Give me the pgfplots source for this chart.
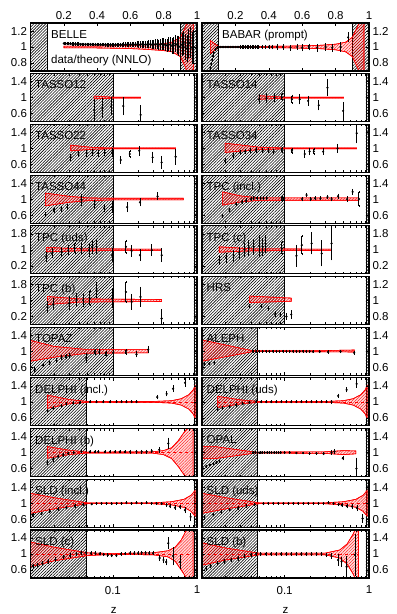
\documentclass[border=0pt]{standalone}
\usepackage{fontspec}
\setmainfont{Liberation Sans}
\usepackage{pgfplots}
\pgfplotsset{compat=1.18}
\usetikzlibrary{patterns,patterns.meta}
\newcommand{\fs}{\fontsize{11.5bp}{13bp}\selectfont}
\tikzset{labst/.style={anchor=north west, inner sep=0pt, font=\fs, xshift=4.5bp, yshift=-7bp}}
\pgfplotsset{
 pnlst/.style={scale only axis, height=48bp, anchor=north west,
   axis line style={line width=1.1pt}, axis on top,
   tick align=inside, major tick length=3bp, minor tick length=2bp,
   every tick/.style={black, line width=0.5pt},
   tick label style={font=\fs}, clip=true},
 lgx/.style={xmin=0.0105, xmax=1, xtick={0.1,1}, xticklabels={},
   minor xtick={0.02,0.03,0.04,0.05,0.06,0.07,0.08,0.09,0.2,0.3,0.4,0.5,0.6,0.7,0.8,0.9}},
 colL/.style={width=166.5bp},
 colR/.style={width=167bp, yticklabel pos=right},
 yA/.style={ymin=0.4,ymax=1.6,ytick={0.6,1,1.4},yticklabels={0.6,1,1.4}},
 yB/.style={ymin=0.7,ymax=1.3,ytick={0.8,1,1.2},yticklabels={0.8,1,1.2}},
 yC/.style={ymin=-0.2,ymax=2.2,ytick={0.2,1,1.8},yticklabels={0.2,1,1.8}},
 toprow/.style={xmin=0, xmax=1, xtick={0.2,0.4,0.6,0.8,1}, xticklabels={0.2,0.4,0.6,0.8,1}, xticklabel pos=upper},
 botrow/.style={xticklabels={0.1,1}, xticklabel style={yshift=-4.5bp}, xlabel={z}, xlabel style={font=\fs, yshift=-6bp}},
 hatchst/.style={draw=black, line width=0.7pt, pattern={Lines[angle=45,distance=2.1pt,line width=0.6pt]}, pattern color=black},
 bandst/.style={draw=red, line width=0.6pt, fill=red, fill opacity=0.15, postaction={fill opacity=0.45, pattern={Lines[angle=45,distance=2.1pt,line width=0.35pt]}, pattern color=red}},
 clst/.style={red, dashed, line width=0.5pt},
 datst/.style={black, only marks, mark=*, mark size=0.9bp, error bars/y dir=both, error bars/y explicit, error bars/error bar style={line width=0.9pt}, error bars/error mark options={mark size=1bp, line width=0.6pt}},
}
\newcommand{\hatchA}{\addplot[hatchst] coordinates {(0.0105,-1) (0.1,-1) (0.1,3) (0.0105,3)} -- cycle;
 \addplot[hatchst] coordinates {(0.92,-1) (1,-1) (1,3) (0.92,3)} -- cycle;}
\newcommand{\hatchB}{\addplot[hatchst] coordinates {(0.0105,-1) (0.048,-1) (0.048,3) (0.0105,3)} -- cycle;
 \addplot[hatchst] coordinates {(0.92,-1) (1,-1) (1,3) (0.92,3)} -- cycle;}
\begin{document}
\begin{tikzpicture}
\useasboundingbox (0,0) rectangle (397bp,614bp);
% ---------------- row 0
\begin{axis}[pnlst, colL, yB, toprow, at={(30.5bp,591bp)}]
\addplot[hatchst] coordinates {(0,0) (0.1,0) (0.1,2) (0,2)} -- cycle;
\addplot[hatchst] coordinates {(0.9,0) (1,0) (1,2) (0.9,2)} -- cycle;
\addplot[bandst] coordinates {(0.2,1.01) (0.4,1.012) (0.6,1.02) (0.7,1.03) (0.8,1.04) (0.85,1.06) (0.9,1.12) (0.93,1.25) (0.96,1.45) (0.98,1.6) (0.98,0.4) (0.96,0.55) (0.93,0.75) (0.9,0.88) (0.85,0.94) (0.8,0.955) (0.7,0.97) (0.6,0.98) (0.4,0.988) (0.2,0.99)} -- cycle;
\addplot[mark size=1.5bp, datst] table[x index=0,y index=1,y error index=2] {
0.20 1.045 0.008
0.21 1.044 0.008
0.22 1.042 0.008
0.23 1.041 0.008
0.24 1.040 0.008
0.25 1.039 0.008
0.26 1.038 0.008
0.27 1.037 0.008
0.28 1.036 0.008
0.29 1.036 0.008
0.30 1.035 0.008
0.31 1.035 0.008
0.32 1.034 0.008
0.33 1.034 0.009
0.34 1.033 0.009
0.35 1.033 0.009
0.36 1.032 0.009
0.37 1.032 0.009
0.38 1.031 0.009
0.39 1.031 0.010
0.40 1.030 0.010
0.41 1.030 0.010
0.42 1.030 0.010
0.43 1.029 0.010
0.44 1.029 0.010
0.45 1.028 0.010
0.46 1.028 0.010
0.47 1.028 0.011
0.48 1.028 0.011
0.49 1.027 0.012
0.50 1.027 0.012
0.51 1.027 0.013
0.52 1.027 0.013
0.53 1.028 0.014
0.54 1.028 0.014
0.55 1.028 0.015
0.56 1.028 0.016
0.57 1.029 0.017
0.58 1.030 0.018
0.59 1.030 0.019
0.60 1.030 0.020
0.61 1.031 0.021
0.62 1.030 0.022
0.63 1.032 0.024
0.64 1.032 0.025
0.65 1.030 0.027
0.66 1.030 0.028
0.67 1.033 0.030
0.68 1.032 0.032
0.69 1.030 0.034
0.70 1.030 0.036
0.71 1.034 0.038
0.72 1.035 0.040
0.73 1.030 0.042
0.74 1.030 0.045
0.75 1.036 0.048
0.76 1.035 0.050
0.77 1.028 0.052
0.78 1.030 0.055
0.79 1.038 0.058
0.80 1.035 0.060
0.81 1.025 0.065
0.82 1.020 0.070
0.83 1.035 0.075
0.84 1.030 0.080
0.85 1.015 0.085
0.86 1.020 0.090
0.87 1.040 0.095
0.88 1.030 0.100
0.89 1.010 0.110
0.90 1.000 0.120
0.91 1.030 0.130
0.92 1.050 0.140
0.93 1.000 0.150
0.94 0.980 0.160
0.95 1.040 0.170
0.96 1.060 0.180
0.97 0.990 0.190
0.98 1.000 0.200
};
\node[labst, xshift=16bp] at (rel axis cs:0,1) {BELLE};
\node[anchor=base west, inner sep=0pt, font=\fs, xshift=20.5bp, yshift=7bp] at (rel axis cs:0,0) {data/theory (NNLO)};
\end{axis}
\begin{axis}[pnlst, colR, yB, toprow, at={(202bp,591bp)}]
\addplot[hatchst] coordinates {(0,0) (0.1,0) (0.1,2) (0,2)} -- cycle;
\addplot[hatchst] coordinates {(0.9,0) (1,0) (1,2) (0.9,2)} -- cycle;
\addplot[bandst] coordinates {(0.05,1.08) (0.1,1.005) (0.5,1.01) (0.7,1.02) (0.8,1.035) (0.86,1.06) (0.9,1.12) (0.93,1.25) (0.97,1.45) (0.97,0.55) (0.93,0.75) (0.9,0.88) (0.86,0.94) (0.8,0.965) (0.7,0.98) (0.5,0.99) (0.1,0.995) (0.05,0.92)} -- cycle;
\addplot[mark size=1.2bp, datst] table[x index=0,y index=1,y error index=2] {
0.050 0.74 0.015
0.055 0.79 0.012
0.060 0.84 0.010
0.065 0.89 0.010
0.070 0.93 0.008
0.080 0.97 0.006
0.090 0.99 0.005
0.10 1.0 0.005
0.11 1.0 0.005
0.12 1.0 0.005
0.13 1.0 0.005
0.14 1.0 0.005
0.15 1.0 0.005
0.16 1.0 0.005
0.17 1.0 0.005
0.18 1.0 0.005
0.19 1.0 0.006
0.20 1.0 0.006
0.21 1.0 0.006
0.22 1.0 0.006
0.23 1.0 0.007
0.24 1.0 0.007
0.25 1.0 0.008
0.26 1.0 0.008
0.27 1.0 0.009
0.28 1.0 0.009
0.29 1.0 0.010
0.30 1.0 0.010
0.31 1.0 0.011
0.32 1.0 0.011
0.33 1.0 0.012
0.34 1.0 0.012
0.36 1.0 0.013
0.38 1.0 0.014
0.40 1.0 0.015
0.42 1.0 0.016
0.45 1.0 0.020
0.485 1.0 0.020
0.53 0.99 0.025
0.57 1.0 0.025
0.60 0.99 0.030
0.64 1.0 0.030
0.69 0.99 0.035
0.74 1.0 0.035
0.78 0.99 0.040
0.83 1.0 0.045
0.875 1.12 0.050
};
\node[labst, xshift=15.5bp] at (rel axis cs:0,1) {BABAR (prompt)};
\end{axis}
% ---------------- row 1
\begin{semilogxaxis}[pnlst, lgx, colL, yA, at={(30.5bp,540.3bp)}]
\hatchA
\addplot[bandst] coordinates {(0.06,1.04) (0.1,1.01) (0.214,1.01) (0.214,0.99) (0.1,0.99) (0.06,0.97)} -- cycle;
\addplot[datst] table[x index=0,y index=1,y error index=2] {
0.060 0.69 0.25
0.075 0.74 0.22
0.095 0.78 0.20
0.133 0.79 0.20
0.214 0.57 0.22
};
\node[labst] at (rel axis cs:0,1) {TASSO12};
\end{semilogxaxis}
\begin{semilogxaxis}[pnlst, lgx, colR, yA, at={(202bp,540.3bp)}]
\hatchA
\addplot[bandst] coordinates {(0.05,1.05) (0.1,1.01) (0.5,1.01) (0.5,0.99) (0.1,0.99) (0.05,0.96)} -- cycle;
\addplot[datst] table[x index=0,y index=1,y error index=2] {
0.050 0.96 0.10
0.061 0.98 0.10
0.076 1.00 0.08
0.093 1.01 0.08
0.122 0.96 0.09
0.151 0.96 0.10
0.190 0.92 0.10
0.254 0.81 0.10
0.322 1.25 0.19
0.494 0.67 0.20
};
\node[labst] at (rel axis cs:0,1) {TASSO14};
\end{semilogxaxis}
% ---------------- row 2
\begin{semilogxaxis}[pnlst, lgx, colL, yA, at={(30.5bp,489.6bp)}]
\hatchA
\addplot[bandst] coordinates {(0.0316,1.08) (0.06,1.02) (0.1,1.01) (0.557,1.01) (0.557,0.99) (0.1,0.99) (0.06,0.98) (0.0316,0.94)} -- cycle;
\addplot[datst] table[x index=0,y index=1,y error index=2] {
0.0316 0.775 0.06
0.039 0.86 0.06
0.049 0.88 0.06
0.057 0.90 0.06
0.067 0.88 0.06
0.080 0.90 0.06
0.098 0.90 0.08
0.124 0.71 0.07
0.159 0.86 0.08
0.206 0.94 0.10
0.297 0.775 0.12
0.38 0.65 0.14
0.557 0.79 0.17
};
\node[labst] at (rel axis cs:0,1) {TASSO22};
\end{semilogxaxis}
\begin{semilogxaxis}[pnlst, lgx, colR, yA, at={(202bp,489.6bp)}]
\hatchA
\addplot[bandst] coordinates {(0.0197,1.13) (0.05,1.03) (0.1,1.01) (0.714,1.01) (0.714,0.99) (0.1,0.99) (0.05,0.97) (0.0197,0.9)} -- cycle;
\addplot[datst] table[x index=0,y index=1,y error index=2] {
0.0197 0.69 0.05
0.0247 0.82 0.05
0.0297 0.90 0.04
0.034 0.92 0.04
0.039 0.94 0.04
0.046 0.96 0.04
0.055 0.94 0.04
0.0645 0.94 0.04
0.074 0.925 0.04
0.093 0.96 0.04
0.122 0.94 0.05
0.173 0.86 0.07
0.198 0.925 0.07
0.222 0.925 0.07
0.286 0.92 0.06
0.424 1.0 0.09
0.714 1.38 0.23
};
\node[labst] at (rel axis cs:0,1) {TASSO34};
\end{semilogxaxis}
% ---------------- row 3
\begin{semilogxaxis}[pnlst, lgx, colL, yA, at={(30.5bp,438.9bp)}]
\hatchA
\addplot[bandst] coordinates {(0.0158,1.15) (0.03,1.07) (0.05,1.03) (0.1,1.02) (0.687,1.02) (0.687,0.98) (0.1,0.98) (0.05,0.96) (0.03,0.92) (0.0158,0.83)} -- cycle;
\addplot[datst] table[x index=0,y index=1,y error index=2] {
0.0158 0.61 0.04
0.0199 0.72 0.04
0.0245 0.75 0.04
0.0286 0.80 0.05
0.0424 0.98 0.13
0.061 0.86 0.08
0.0787 0.775 0.08
0.098 0.80 0.12
0.148 0.80 0.10
0.21 0.92 0.08
0.34 1.07 0.07
};
\node[labst] at (rel axis cs:0,1) {TASSO44};
\end{semilogxaxis}
\begin{semilogxaxis}[pnlst, lgx, colR, yA, at={(202bp,438.9bp)}]
\hatchA
\addplot[bandst] coordinates {(0.0184,1.18) (0.03,1.08) (0.05,1.03) (0.76,1.03) (0.76,0.97) (0.05,0.97) (0.03,0.93) (0.0184,0.85)} -- cycle;
\addplot[datst] table[x index=0,y index=1,y error index=2] {
0.0184 0.58 0.03
0.0222 0.73 0.03
0.0266 0.875 0.03
0.0313 0.93 0.03
0.035 0.96 0.03
0.040 1.0 0.03
0.043 1.025 0.03
0.047 1.025 0.03
0.052 1.025 0.03
0.056 1.025 0.03
0.0615 1.025 0.03
0.093 1.0 0.04
0.098 1.0 0.04
0.161 1.0 0.03
0.182 1.1 0.03
0.204 1.0 0.03
0.23 1.02 0.03
0.266 1.02 0.03
0.322 1.05 0.03
0.36 1.0 0.03
0.43 1.07 0.04
0.55 1.0 0.04
0.64 1.18 0.05
0.76 1.0 0.17
};
\node[labst] at (rel axis cs:0,1) {TPC (incl.)};
\end{semilogxaxis}
% ---------------- row 4
\begin{semilogxaxis}[pnlst, lgx, colL, yC, at={(30.5bp,388.2bp)}]
\hatchA
\addplot[bandst] coordinates {(0.0162,1.12) (0.04,1.05) (0.38,1.03) (0.38,0.97) (0.04,0.95) (0.0162,0.9)} -- cycle;
\addplot[datst] table[x index=0,y index=1,y error index=2] {
0.0162 0.65 0.2
0.019 0.82 0.2
0.0245 0.9 0.2
0.0295 0.98 0.2
0.0353 1.07 0.25
0.0423 1.07 0.25
0.052 0.98 0.3
0.057 1.15 0.3
0.064 1.15 0.3
0.098 0.73 0.3
0.143 1.15 0.3
0.167 0.95 0.25
0.21 0.73 0.25
0.29 0.98 0.25
0.38 0.73 0.3
};
\node[labst] at (rel axis cs:0,1) {TPC (uds)};
\end{semilogxaxis}
\begin{semilogxaxis}[pnlst, lgx, colR, yC, at={(202bp,388.2bp)}]
\hatchA
\addplot[bandst] coordinates {(0.0168,1.15) (0.04,1.05) (0.36,1.03) (0.36,0.97) (0.04,0.95) (0.0168,0.88)} -- cycle;
\addplot[datst] table[x index=0,y index=1,y error index=2] {
0.0168 0.5 0.2
0.0202 0.6 0.2
0.0249 0.7 0.25
0.029 0.85 0.25
0.0335 1.0 0.3
0.0376 1.1 0.35
0.043 1.15 0.35
0.050 1.2 0.5
0.055 1.15 0.4
0.0595 1.3 0.4
0.093 1.07 0.3
0.138 0.7 0.5
0.16 1.23 0.45
0.209 1.32 0.5
0.275 0.82 0.6
0.36 1.32 0.8
};
\node[labst] at (rel axis cs:0,1) {TPC (c)};
\end{semilogxaxis}
% ---------------- row 5
\begin{semilogxaxis}[pnlst, lgx, colL, yC, at={(30.5bp,337.5bp)}]
\hatchA
\addplot[bandst] coordinates {(0.0167,1.2) (0.04,1.08) (0.38,1.05) (0.38,0.95) (0.04,0.92) (0.0167,0.8)} -- cycle;
\addplot[datst] table[x index=0,y index=1,y error index=2] {
0.0167 0.68 0.25
0.0195 0.8 0.25
0.0302 0.85 0.3
0.037 1.02 0.3
0.0443 1.02 0.3
0.0534 1.1 0.35
0.064 1.52 0.35
0.098 1.1 0.45
0.143 1.43 0.5
0.167 0.93 0.35
0.213 1.18 0.45
0.38 0.1 0.4
};
\node[labst] at (rel axis cs:0,1) {TPC (b)};
\end{semilogxaxis}
\begin{semilogxaxis}[pnlst, lgx, colR, yB, at={(202bp,337.5bp)}]
\hatchA
\addplot[bandst] coordinates {(0.0383,1.055) (0.12,1.03) (0.12,0.99) (0.0383,0.975)} -- cycle;
\addplot[datst] table[x index=0,y index=1,y error index=2] {
0.0383 0.93 0.015
0.0528 0.93 0.015
0.0645 0.90 0.015
0.0775 0.83 0.02
0.0895 0.82 0.02
0.105 0.80 0.03
0.12 0.825 0.04
};
\node[labst] at (rel axis cs:0,1) {HRS};
\end{semilogxaxis}
% ---------------- row 6
\begin{semilogxaxis}[pnlst, lgx, colL, yA, at={(30.5bp,286.8bp)}]
\hatchA
\addplot[bandst] coordinates {(0.0105,1.27) (0.02,1.12) (0.05,1.04) (0.263,1.04) (0.263,0.96) (0.05,0.95) (0.02,0.85) (0.0105,0.75)} -- cycle;
\addplot[datst] table[x index=0,y index=1,y error index=2] {
0.0118 0.54 0.03
0.0148 0.65 0.03
0.0178 0.71 0.03
0.0214 0.77 0.03
0.0246 0.85 0.04
0.0276 0.875 0.04
0.0307 0.89 0.04
0.0484 0.83 0.10
0.0612 0.98 0.05
0.0688 0.98 0.05
0.0826 0.93 0.05
0.101 0.96 0.05
0.143 0.98 0.05
0.191 0.92 0.05
0.263 1.04 0.07
};
\node[labst] at (rel axis cs:0,1) {TOPAZ};
\end{semilogxaxis}
\begin{semilogxaxis}[pnlst, lgx, colR, yA, at={(202bp,286.8bp)}]
\hatchB
\addplot[bandst] coordinates {(0.0105,1.28) (0.042,1.01) (0.3,1.015) (0.668,1.03) (0.668,0.98) (0.3,0.985) (0.042,0.99) (0.0105,0.75)} -- cycle;
\addplot[datst] table[x index=0,y index=1,y error index=2] {
0.0112 0.68 0.02
0.0128 0.69 0.02
0.0147 0.71 0.02
0.042 1.0 0.01
0.046 1.0 0.01
0.050 1.0 0.01
0.055 1.0 0.01
0.0605 1.0 0.01
0.066 1.0 0.01
0.0725 1.0 0.01
0.080 1.0 0.01
0.087 1.0 0.01
0.0955 1.0 0.01
0.105 1.0 0.01
0.115 1.0 0.01
0.126 1.0 0.01
0.138 1.0 0.01
0.151 1.0 0.01
0.165 1.0 0.01
0.181 1.0 0.01
0.198 1.0 0.01
0.217 0.99 0.01
0.261 0.99 0.015
0.328 0.98 0.015
0.46 0.99 0.02
0.668 0.96 0.03
};
\node[labst] at (rel axis cs:0,1) {ALEPH};
\end{semilogxaxis}
% ---------------- row 7
\begin{semilogxaxis}[pnlst, lgx, colL, yA, at={(30.5bp,236.1bp)}]
\hatchB
\addplot[bandst] coordinates {(0.0167,1.17) (0.03,1.06) (0.05,1.01) (0.3,1.01) (0.5,1.03) (0.65,1.08) (0.8,1.18) (0.9,1.3) (0.95,1.4) (0.95,0.6) (0.9,0.7) (0.8,0.82) (0.65,0.92) (0.5,0.97) (0.3,0.99) (0.05,0.99) (0.03,0.95) (0.0167,0.84)} -- cycle;
\addplot[clst] coordinates {(0.0167,1) (0.95,1)};
\addplot[datst] table[x index=0,y index=1,y error index=2] {
0.0167 0.78 0.02
0.0195 0.84 0.02
0.0245 0.90 0.02
0.028 0.95 0.02
0.0338 0.97 0.015
0.0405 0.98 0.015
0.0533 1.0 0.01
0.064 1.0 0.01
0.077 1.0 0.01
0.0925 1.0 0.01
0.111 1.0 0.01
0.127 1.0 0.01
0.145 1.0 0.01
0.167 1.0 0.015
0.191 1.0 0.015
0.337 1.12 0.03
0.436 1.2 0.04
0.52 1.33 0.06
0.72 1.48 0.08
};
\node[labst] at (rel axis cs:0,1) {DELPHI (incl.)};
\end{semilogxaxis}
\begin{semilogxaxis}[pnlst, lgx, colR, yA, at={(202bp,236.1bp)}]
\hatchB
\addplot[bandst] coordinates {(0.0161,1.14) (0.03,1.05) (0.05,1.01) (0.3,1.01) (0.5,1.03) (0.65,1.08) (0.8,1.18) (0.9,1.3) (0.95,1.4) (0.95,0.6) (0.9,0.7) (0.8,0.82) (0.65,0.92) (0.5,0.97) (0.3,0.99) (0.05,0.99) (0.03,0.95) (0.0161,0.86)} -- cycle;
\addplot[clst] coordinates {(0.0161,1) (0.95,1)};
\addplot[datst] table[x index=0,y index=1,y error index=2] {
0.0161 0.82 0.02
0.0184 0.84 0.02
0.0222 0.88 0.02
0.0266 0.92 0.02
0.0319 0.95 0.015
0.0383 0.98 0.015
0.046 1.0 0.01
0.0528 1.0 0.01
0.0605 1.0 0.01
0.0695 1.0 0.01
0.0798 1.0 0.01
0.0916 1.0 0.01
0.105 1.0 0.01
0.12 1.0 0.01
0.138 1.0 0.01
0.158 1.0 0.01
0.181 1.0 0.01
0.208 1.0 0.01
0.239 1.0 0.015
0.274 1.0 0.015
0.314 1.0 0.015
0.36 1.0 0.02
0.431 1.15 0.03
0.543 1.3 0.04
0.714 1.45 0.07
};
\node[labst] at (rel axis cs:0,1) {DELPHI (uds)};
\end{semilogxaxis}
% ---------------- row 8
\begin{semilogxaxis}[pnlst, lgx, colL, yA, at={(30.5bp,185.4bp)}]
\hatchB
\addplot[bandst] coordinates {(0.0167,1.15) (0.03,1.06) (0.05,1.01) (0.3,1.02) (0.4,1.05) (0.5,1.12) (0.6,1.3) (0.7,1.5) (0.9,1.8) (0.9,0.25) (0.7,0.45) (0.6,0.65) (0.5,0.85) (0.4,0.95) (0.3,0.985) (0.05,0.99) (0.03,0.95) (0.0167,0.86)} -- cycle;
\addplot[clst] coordinates {(0.0167,1) (0.9,1)};
\addplot[datst] table[x index=0,y index=1,y error index=2] {
0.0167 0.75 0.03
0.0195 0.83 0.03
0.0223 0.90 0.02
0.0257 0.94 0.02
0.0295 0.98 0.02
0.0343 1.0 0.02
0.0423 1.02 0.015
0.0533 1.02 0.015
0.0612 1.02 0.015
0.0672 1.02 0.015
0.0805 1.02 0.015
0.0925 1.02 0.015
0.106 1.02 0.015
0.121 1.02 0.015
0.139 1.02 0.015
0.16 1.02 0.02
0.191 1.02 0.02
0.22 1.02 0.02
0.252 1.02 0.025
0.29 1.04 0.03
0.356 1.07 0.05
0.456 1.23 0.12
};
\node[labst] at (rel axis cs:0,1) {DELPHI (b)};
\end{semilogxaxis}
\begin{semilogxaxis}[pnlst, lgx, colR, yA, at={(202bp,185.4bp)}]
\hatchB
\addplot[bandst] coordinates {(0.0105,1.15) (0.015,1.15) (0.045,1.01) (0.3,1.02) (0.5,1.05) (0.7,1.04) (0.7,0.97) (0.5,0.95) (0.3,0.98) (0.045,0.99) (0.015,0.85) (0.0105,0.85)} -- cycle;
\addplot[mark size=1.2bp, datst] table[x index=0,y index=1,y error index=2] {
0.0106 0.63 0.01
0.0118 0.66 0.01
0.0130 0.69 0.01
0.0143 0.72 0.01
0.0156 0.75 0.01
0.0170 0.77 0.01
0.042 1.0 0.01
0.045 1.0 0.01
0.048 1.0 0.01
0.051 1.0 0.01
0.054 1.0 0.01
0.058 1.0 0.01
0.062 1.0 0.01
0.066 1.0 0.01
0.070 1.0 0.01
0.075 1.0 0.01
0.080 1.0 0.01
0.085 1.0 0.01
0.090 1.0 0.01
0.100 1.0 0.01
0.115 1.0 0.01
0.138 0.99 0.01
0.165 0.99 0.01
0.198 0.98 0.01
0.239 0.98 0.015
0.29 0.97 0.015
0.36 1.0 0.03
0.39 1.03 0.03
0.49 0.86 0.03
0.71 0.60 0.25
};
\node[labst] at (rel axis cs:0,1) {OPAL};
\end{semilogxaxis}
% ---------------- row 9
\begin{semilogxaxis}[pnlst, lgx, colL, yA, at={(30.5bp,134.7bp)}]
\hatchB
\addplot[bandst] coordinates {(0.0105,1.25) (0.02,1.14) (0.05,1.01) (0.3,1.01) (0.5,1.04) (0.7,1.1) (0.85,1.2) (0.95,1.32) (0.95,0.68) (0.85,0.8) (0.7,0.9) (0.5,0.96) (0.3,0.99) (0.05,0.99) (0.02,0.86) (0.0105,0.75)} -- cycle;
\addplot[clst] coordinates {(0.0105,1) (0.95,1)};
\addplot[datst] table[x index=0,y index=1,y error index=2] {
0.0112 0.70 0.02
0.0142 0.74 0.02
0.0178 0.80 0.02
0.0223 0.85 0.02
0.028 0.89 0.02
0.0354 0.93 0.02
0.0443 0.97 0.015
0.0561 0.98 0.01
0.064 1.0 0.01
0.0734 1.0 0.01
0.0843 1.0 0.01
0.0968 0.99 0.01
0.111 1.0 0.01
0.127 1.0 0.01
0.145 1.01 0.01
0.167 1.0 0.01
0.191 1.01 0.01
0.22 1.0 0.01
0.252 1.01 0.01
0.289 1.0 0.01
0.331 1.0 0.01
0.38 0.99 0.015
0.436 0.96 0.02
0.477 0.925 0.02
0.547 0.89 0.03
0.628 0.91 0.03
0.72 0.83 0.05
0.84 0.66 0.08
};
\node[labst] at (rel axis cs:0,1) {SLD (incl.)};
\end{semilogxaxis}
\begin{semilogxaxis}[pnlst, lgx, colR, yA, at={(202bp,134.7bp)}]
\hatchB
\addplot[bandst] coordinates {(0.0105,1.25) (0.02,1.14) (0.05,1.01) (0.3,1.01) (0.5,1.04) (0.7,1.1) (0.85,1.2) (0.95,1.32) (0.95,0.68) (0.85,0.8) (0.7,0.9) (0.5,0.96) (0.3,0.99) (0.05,0.99) (0.02,0.86) (0.0105,0.75)} -- cycle;
\addplot[clst] coordinates {(0.0105,1) (0.95,1)};
\addplot[datst] table[x index=0,y index=1,y error index=2] {
0.0112 0.66 0.02
0.0142 0.72 0.02
0.0178 0.78 0.02
0.0223 0.84 0.02
0.028 0.88 0.02
0.0354 0.93 0.02
0.0443 0.97 0.015
0.0561 0.99 0.01
0.064 1.0 0.01
0.0734 1.0 0.01
0.0843 1.0 0.01
0.0968 1.0 0.01
0.111 1.0 0.01
0.127 1.0 0.01
0.145 1.0 0.01
0.167 1.0 0.01
0.191 1.0 0.01
0.22 1.0 0.01
0.252 1.0 0.01
0.289 1.0 0.01
0.331 1.01 0.01
0.38 1.0 0.015
0.436 0.97 0.02
0.477 0.95 0.02
0.547 0.93 0.03
0.628 0.92 0.04
0.72 0.88 0.05
0.84 0.62 0.08
};
\node[labst] at (rel axis cs:0,1) {SLD (uds)};
\end{semilogxaxis}
% ---------------- row 10
\begin{semilogxaxis}[pnlst, lgx, colL, yA, botrow, at={(30.5bp,84bp)}]
\hatchB
\addplot[bandst] coordinates {(0.0105,1.3) (0.02,1.17) (0.05,1.03) (0.1,1.01) (0.3,1.03) (0.45,1.08) (0.55,1.17) (0.65,1.35) (0.75,1.6) (0.9,2.0) (0.9,0.1) (0.75,0.4) (0.65,0.6) (0.55,0.82) (0.45,0.93) (0.3,0.98) (0.1,0.99) (0.05,0.96) (0.02,0.83) (0.0105,0.68)} -- cycle;
\addplot[clst] coordinates {(0.0105,1) (0.9,1)};
\addplot[datst] table[x index=0,y index=1,y error index=2] {
0.0112 0.70 0.03
0.0127 0.73 0.03
0.0145 0.77 0.03
0.017 0.81 0.03
0.0208 0.86 0.03
0.026 0.93 0.03
0.031 0.96 0.03
0.037 1.0 0.03
0.042 1.03 0.03
0.048 1.03 0.02
0.055 1.02 0.02
0.062 1.02 0.02
0.07 1.01 0.02
0.078 0.99 0.02
0.087 0.97 0.02
0.097 0.96 0.02
0.11 0.96 0.02
0.125 1.0 0.02
0.14 1.01 0.02
0.16 1.02 0.02
0.18 1.02 0.02
0.2 1.02 0.02
0.22 1.03 0.02
0.245 1.03 0.02
0.27 1.02 0.03
0.3 1.02 0.03
0.36 0.90 0.05
0.40 0.85 0.06
0.43 0.80 0.06
0.456 1.27 0.12
0.52 0.95 0.20
0.63 0.80 0.15
};
\node[labst] at (rel axis cs:0,1) {SLD (c)};
\end{semilogxaxis}
\begin{semilogxaxis}[pnlst, lgx, colR, yA, botrow, at={(202bp,84bp)}]
\hatchB
\addplot[bandst] coordinates {(0.0105,1.28) (0.02,1.15) (0.05,1.02) (0.3,1.02) (0.45,1.1) (0.55,1.25) (0.65,1.5) (0.75,1.8) (0.75,0.2) (0.65,0.5) (0.55,0.75) (0.45,0.9) (0.3,0.98) (0.05,0.98) (0.02,0.85) (0.0105,0.72)} -- cycle;
\addplot[clst] coordinates {(0.0105,1) (0.75,1)};
\addplot[datst] table[x index=0,y index=1,y error index=2] {
0.0117 0.64 0.03
0.0133 0.70 0.03
0.0161 0.77 0.03
0.0194 0.81 0.03
0.0233 0.85 0.03
0.028 0.89 0.03
0.0335 0.95 0.02
0.0401 0.98 0.02
0.0458 1.0 0.02
0.052 1.0 0.02
0.06 1.0 0.02
0.069 1.0 0.02
0.0795 1.0 0.02
0.091 1.0 0.02
0.105 1.0 0.02
0.12 1.0 0.02
0.138 1.0 0.02
0.158 1.0 0.02
0.181 1.0 0.02
0.208 1.0 0.02
0.239 1.0 0.02
0.274 1.0 0.02
0.314 0.975 0.03
0.36 0.95 0.04
0.431 0.85 0.12
0.473 0.81 0.10
0.543 0.68 0.25
0.682 0.98 0.50
};
\node[labst] at (rel axis cs:0,1) {SLD (b)};
\end{semilogxaxis}
\end{tikzpicture}
\end{document}
